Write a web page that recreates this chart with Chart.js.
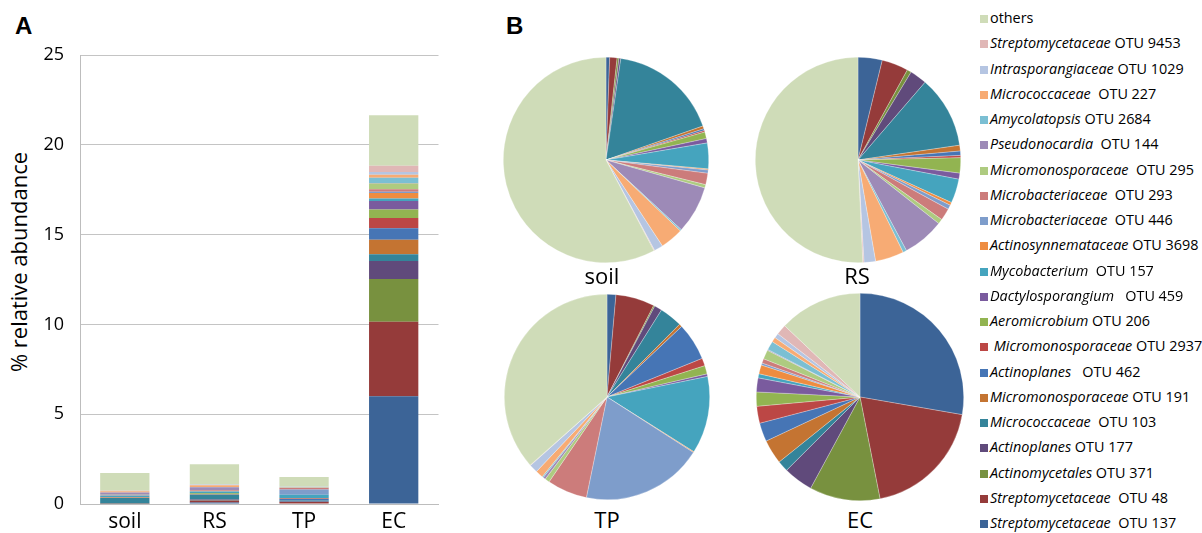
<!DOCTYPE html>
<html>
<head>
  <title>Actinobacteria OTUs</title>
  <script src="https://cdn.jsdelivr.net/npm/chart.js"></script>
  <style>
    body { margin: 0; background: #fff; font-family: 'Open Sans', sans-serif; color: #000; }
    #page { position: relative; width: 1202px; height: 533px; overflow: hidden; }
    canvas { position: absolute; }
    .panel { position: absolute; font: bold 24px 'Liberation Sans', Arial, sans-serif; }
    .ytitle { position: absolute; left: 18px; top: 262px; font-size: 22px; white-space: nowrap;
              transform: translate(-50%, -50%) rotate(-90deg); }
    .pielabel { position: absolute; font-size: 22px; transform: translate(-50%, -50%); }
    .row { position: absolute; left: 980px; font-size: 14.4px; line-height: 20px; height: 20px;
           white-space: pre; transform: translateY(-50%); }
    .sw { display: inline-block; width: 8px; height: 8px; margin-right: 2px; vertical-align: 0px; }
  </style>
</head>
<body>
<div id="page">
  <div class="panel" style="left:15px;top:12px">A</div>
  <div class="panel" style="left:506px;top:12px">B</div>
  <div class="ytitle">% relative abundance</div>

  <canvas id="bars" width="440" height="533" style="left:0;top:0"></canvas>
  <canvas id="pieSoil" width="206" height="206" style="left:503px;top:57px"></canvas>
  <canvas id="pieRS" width="206" height="206" style="left:755px;top:57px"></canvas>
  <canvas id="pieTP" width="206" height="206" style="left:504px;top:294px"></canvas>
  <canvas id="pieEC" width="208" height="208" style="left:756px;top:293px"></canvas>

  <div class="pielabel" style="left:602px;top:275px">soil</div>
  <div class="pielabel" style="left:857px;top:275px">RS</div>
  <div class="pielabel" style="left:607px;top:519px">TP</div>
  <div class="pielabel" style="left:860px;top:519px">EC</div>
  <div id="legend"></div>
</div>

<script>
  // muestras
  var samples = ['soil', 'RS', 'TP', 'EC'];

  // series, de abajo hacia arriba en la barra (y en sentido horario en las tortas)
  var taxa = ['Streptomycetaceae', 'Streptomycetaceae', 'Actinomycetales', 'Actinoplanes',
              'Micrococcaceae', 'Micromonosporaceae', 'Actinoplanes', ' Micromonosporaceae',
              'Aeromicrobium', 'Dactylosporangium', 'Mycobacterium', 'Actinosynnemataceae',
              'Microbacteriaceae', 'Microbacteriaceae', 'Micromonosporaceae', 'Pseudonocardia',
              'Amycolatopsis', 'Micrococcaceae', 'Intrasporangiaceae', 'Streptomycetaceae', ''];
  var otus = ['  OTU 137', '  OTU 48', ' OTU 371', ' OTU 177', '  OTU 103', ' OTU 191',
              '   OTU 462', ' OTU 2937', ' OTU 206', '   OTU 459', '  OTU 157', ' OTU 3698',
              '  OTU 446', '  OTU 293', '  OTU 295', '  OTU 144', ' OTU 2684', '  OTU 227',
              ' OTU 1029', ' OTU 9453', 'others'];

  // % de abundancia relativa por muestra (mismo orden que las series)
  var soilValues = [0.01, 0.02, 0.005, 0.005, 0.30, 0.008, 0.005, 0.004, 0.018, 0.012, 0.07,
                    0.003, 0.009, 0.031, 0.009, 0.13, 0.004, 0.063, 0.024, 0.002, 1.0];
  var rsValues = [0.084, 0.092, 0.015, 0.059, 0.251, 0.02, 0.015, 0.008, 0.053, 0.021, 0.084,
                  0.01, 0.015, 0.042, 0.017, 0.145, 0.013, 0.099, 0.04, 0.004, 1.12];
  var tpValues = [0.021, 0.092, 0.003, 0.018, 0.054, 0.007, 0.089, 0.018, 0.02, 0.006, 0.183,
                  0.002, 0.288, 0.095, 0.011, 0.006, 0.003, 0.018, 0.02, 0.001, 0.55];
  var ecValues = [6.0, 4.15, 2.38, 1.0, 0.37, 0.82, 0.63, 0.57, 0.48, 0.47, 0.14,
                  0.3, 0.07, 0.15, 0.31, 0.03, 0.3, 0.16, 0.16, 0.35, 2.8];

  var yTicks = [0, 5, 10, 15, 20, 25];

  var colors = ['#3c6497', '#953b3a', '#78913f', '#604a7b', '#34849a', '#c47432',
                '#4675b5', '#bc4745', '#92b451', '#7a5b9e', '#45a4be', '#ee8c40',
                '#7e9dcb', '#cc7c7b', '#aecb80', '#9d8ab7', '#7bbfd3', '#f7ab74',
                '#b5c5e2', '#e0b7b6', '#cfdcb8'];

  var bySample = [soilValues, rsValues, tpValues, ecValues];
  var font = "'Open Sans', sans-serif";

  // gráfico de barras apiladas (A)
  var datasets = [];
  for (var s = 0; s < taxa.length; s++) {
    datasets.push({
      label: (taxa[s] + otus[s]).trim(),
      data: bySample.map(function (v) { return v[s]; }),
      backgroundColor: colors[s],
      borderWidth: 0,
      barPercentage: 0.55,
      categoryPercentage: 1
    });
  }

  new Chart(document.getElementById('bars'), {
    type: 'bar',
    data: { labels: samples, datasets: datasets },
    options: {
      responsive: false,
      animation: false,
      layout: { padding: { top: 55, right: 1.5, left: 0, bottom: 0 } },
      plugins: { legend: { display: false }, tooltip: { enabled: false } },
      scales: {
        x: {
          stacked: true,
          grid: { display: false },
          border: { color: '#bdbdbd' },
          ticks: { color: '#000', padding: -3, font: { family: font, size: 21 } },
          afterFit: function (sc) { sc.height = 29; }
        },
        y: {
          stacked: true,
          min: yTicks[0],
          max: yTicks[yTicks.length - 1],
          afterBuildTicks: function (sc) { sc.ticks = yTicks.map(function (v) { return { value: v }; }); },
          grid: { color: '#c4c4c4', drawTicks: false },
          border: { color: '#bdbdbd' },
          ticks: { color: '#000', padding: 16, font: { family: font, size: 18 } },
          afterFit: function (sc) { sc.width = 80; }
        }
      }
    }
  });

  // tortas (B)
  var pieIds = ['pieSoil', 'pieRS', 'pieTP', 'pieEC'];
  pieIds.forEach(function (id, i) {
    new Chart(document.getElementById(id), {
      type: 'pie',
      data: {
        labels: datasets.map(function (d) { return d.label; }),
        datasets: [{
          data: bySample[i],
          backgroundColor: colors,
          borderColor: 'rgba(255,255,255,0.45)',
          borderWidth: 0.6
        }]
      },
      options: {
        responsive: false,
        animation: false,
        plugins: { legend: { display: false }, tooltip: { enabled: false } }
      }
    });
  });

  // leyenda
  var legend = document.getElementById('legend');
  for (var r = 0; r < taxa.length; r++) {
    var k = taxa.length - 1 - r;
    var row = document.createElement('div');
    row.className = 'row';
    row.style.top = (18 + r * 25.25) + 'px';
    var sw = '<span class="sw" style="background:' + colors[k] + '"></span>';
    if (taxa[k] === '') {
      row.innerHTML = sw + otus[k];
    } else {
      row.innerHTML = sw + '<i>' + taxa[k] + '</i>' + otus[k];
    }
    legend.appendChild(row);
  }
</script>
</body>
</html>
